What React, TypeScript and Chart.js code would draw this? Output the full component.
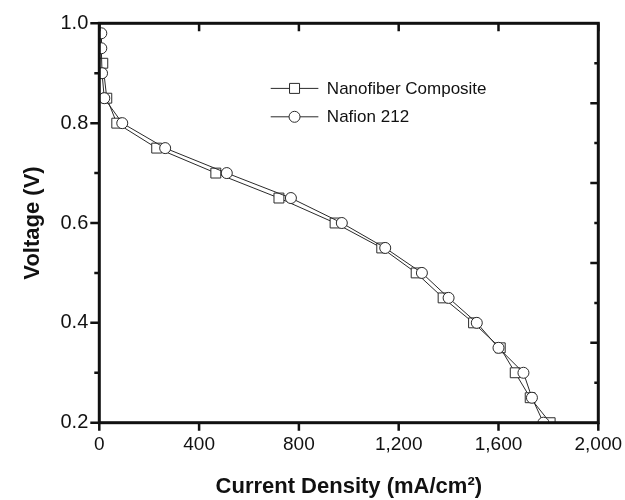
import React, { useEffect, useRef } from "react";
import { Chart, registerables } from "chart.js";

Chart.register(...registerables);

// ---- Data ----
const nanofiberCurrent = [14, 30, 70, 230, 467, 720, 945, 1132, 1270, 1378, 1500, 1607, 1667, 1727, 1807];
const nanofiberVoltage = [0.92, 0.85, 0.8, 0.75, 0.7, 0.65, 0.6, 0.55, 0.5, 0.45, 0.4, 0.35, 0.3, 0.25, 0.2];

const nafionCurrent = [8, 8, 11, 20, 92, 264, 511, 768, 972, 1146, 1293, 1400, 1513, 1600, 1700, 1734, 1780];
const nafionVoltage = [0.98, 0.95, 0.9, 0.85, 0.8, 0.75, 0.7, 0.65, 0.6, 0.55, 0.5, 0.45, 0.4, 0.35, 0.3, 0.25, 0.2];

const seriesNames = ["Nanofiber Composite", "Nafion 212"];

const xTickValues = [0, 400, 800, 1200, 1600, 2000];
const yTickValues = [0.2, 0.4, 0.6, 0.8, 1.0];
const yMinorTicks = [0.3, 0.5, 0.7, 0.9];
const rightMajorTicks = [0.84, 0.68, 0.52, 0.36];
const rightMinorTicks = [0.92, 0.76, 0.6, 0.44, 0.28];

const FONT = "'Liberation Sans', Arial, Helvetica, sans-serif";
const INK = "#111111";
const MARK = "#2a2a2a";

const framePlugin = {
  id: "frameTicks",
  afterDatasetsDraw(chart: any) {
    const { ctx, chartArea: a, scales } = chart;
    const xs = scales.x;
    const ys = scales.y;
    ctx.save();
    ctx.strokeStyle = INK;
    ctx.lineCap = "butt";
    ctx.lineWidth = 2.5;
    ctx.beginPath();
    yTickValues.forEach((v) => {
      const p = ys.getPixelForValue(v);
      ctx.moveTo(a.left - 9, p);
      ctx.lineTo(a.left, p);
    });
    yMinorTicks.forEach((v) => {
      const p = ys.getPixelForValue(v);
      ctx.moveTo(a.left - 5, p);
      ctx.lineTo(a.left, p);
    });
    xTickValues.forEach((v) => {
      const p = xs.getPixelForValue(v);
      ctx.moveTo(p, a.bottom);
      ctx.lineTo(p, a.bottom + 8);
      ctx.moveTo(p, a.top);
      ctx.lineTo(p, a.top + 8);
    });
    rightMajorTicks.forEach((v) => {
      const p = ys.getPixelForValue(v);
      ctx.moveTo(a.right - 8, p);
      ctx.lineTo(a.right, p);
    });
    rightMinorTicks.forEach((v) => {
      const p = ys.getPixelForValue(v);
      ctx.moveTo(a.right - 4, p);
      ctx.lineTo(a.right, p);
    });
    ctx.stroke();
    ctx.lineWidth = 3;
    ctx.strokeRect(a.left, a.top, a.right - a.left, a.bottom - a.top);
    ctx.restore();
  },
};

const legendPlugin = {
  id: "insideLegend",
  afterDraw(chart: any) {
    const { ctx, chartArea: a } = chart;
    const w = a.right - a.left;
    const h = a.bottom - a.top;
    const x0 = a.left + w * 0.3435;
    const x1 = a.left + w * 0.439;
    const xm = (x0 + x1) / 2;
    const y0 = a.top + h * 0.163;
    const dy = 28.4;
    ctx.save();
    chart.data.datasets.forEach((ds: any, i: number) => {
      const yy = y0 + i * dy;
      ctx.strokeStyle = MARK;
      ctx.lineWidth = 1;
      ctx.beginPath();
      ctx.moveTo(x0, yy);
      ctx.lineTo(x1, yy);
      ctx.stroke();
      ctx.fillStyle = "#ffffff";
      ctx.beginPath();
      if (ds.pointStyle === "rect") {
        ctx.rect(xm - 5, yy - 5, 10, 10);
      } else {
        ctx.arc(xm, yy, 5.5, 0, Math.PI * 2);
      }
      ctx.fill();
      ctx.stroke();
      ctx.fillStyle = INK;
      ctx.font = `17px ${FONT}`;
      ctx.textBaseline = "middle";
      ctx.textAlign = "left";
      ctx.fillText(ds.label, x1 + 8.5, yy + 1);
    });
    ctx.restore();
  },
};

export default function App() {
  const canvasRef = useRef<HTMLCanvasElement | null>(null);

  useEffect(() => {
    const canvas = canvasRef.current;
    if (!canvas) return;
    const chart = new Chart(canvas, {
      type: "line",
      data: {
        datasets: [
          {
            label: seriesNames[0],
            data: nanofiberCurrent.map((c, i) => ({ x: c, y: nanofiberVoltage[i] })),
            borderColor: MARK,
            borderWidth: 1,
            pointStyle: "rect",
            pointRadius: 7,
            pointBorderWidth: 1,
            pointBorderColor: MARK,
            pointBackgroundColor: "#ffffff",
            tension: 0,
            clip: 0,
            order: 2,
          },
          {
            label: seriesNames[1],
            data: nafionCurrent.map((c, i) => ({ x: c, y: nafionVoltage[i] })),
            borderColor: MARK,
            borderWidth: 1,
            pointStyle: "circle",
            pointRadius: 5.5,
            pointBorderWidth: 1,
            pointBorderColor: MARK,
            pointBackgroundColor: "#ffffff",
            tension: 0,
            clip: 0,
            order: 1,
          },
        ],
      },
      options: {
        responsive: false,
        animation: false,
        devicePixelRatio: 1,
        layout: { padding: { top: 23.3, right: 26.7, left: 0, bottom: 0 } },
        plugins: {
          legend: { display: false },
          tooltip: { enabled: false },
        },
        scales: {
          x: {
            type: "linear",
            min: 0,
            max: 2000,
            afterBuildTicks: (s: any) => {
              s.ticks = xTickValues.map((v) => ({ value: v }));
            },
            afterFit: (s: any) => {
              s.height = 77.3;
              s.paddingLeft = 0;
              s.paddingRight = 0;
            },
            ticks: {
              color: INK,
              font: { family: FONT, size: 19 },
              padding: 11,
              maxRotation: 0,
              callback: (v: any) => Number(v).toLocaleString("en-US"),
            },
            grid: { display: false, drawTicks: false },
            border: { display: false },
            title: {
              display: true,
              text: "Current Density (mA/cm²)",
              color: INK,
              font: { family: FONT, size: 22, weight: "bold" },
              padding: { top: 0, bottom: 0 },
            },
          },
          y: {
            type: "linear",
            min: 0.2,
            max: 1.0,
            afterBuildTicks: (s: any) => {
              s.ticks = yTickValues.map((v) => ({ value: v }));
            },
            afterFit: (s: any) => {
              s.width = 99.3;
              s.paddingTop = 0;
              s.paddingBottom = 0;
            },
            ticks: {
              color: INK,
              font: { family: FONT, size: 20 },
              padding: 11,
              callback: (v: any) => Number(v).toFixed(1),
            },
            grid: { display: false, drawTicks: false },
            border: { display: false },
            title: {
              display: true,
              text: "Voltage (V)",
              color: INK,
              font: { family: FONT, size: 22, weight: "bold" },
              padding: { top: 20, bottom: 0 },
            },
          },
        },
      },
      plugins: [framePlugin, legendPlugin],
    });
    return () => chart.destroy();
  }, []);

  return (
    <div style={{ position: "fixed", left: 0, top: 0, width: 625, height: 500, background: "#fff" }}>
      <canvas ref={canvasRef} width={625} height={500} style={{ display: "block" }} />
    </div>
  );
}
